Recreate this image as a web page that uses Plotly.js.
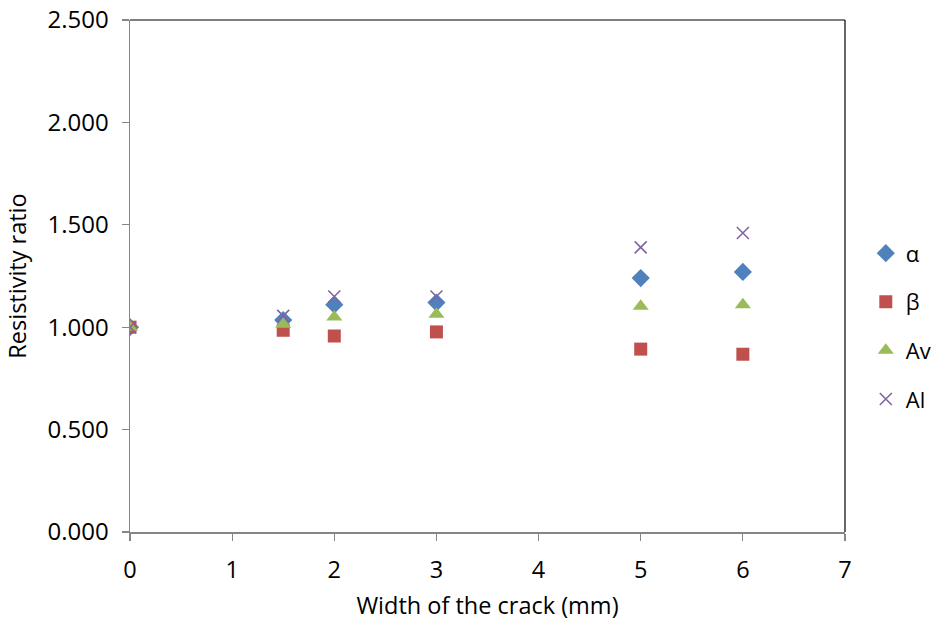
<!DOCTYPE html>
<html>
<head>
<meta charset="utf-8">
<script src="https://cdn.plot.ly/plotly-3.0.1.min.js"></script>
<style>html,body{margin:0;padding:0;background:#fff;}#chart{width:937px;height:624px;}</style>
</head>
<body>
<div id="chart"></div>
<script>
const crackWidth = [0, 1.5, 2, 3, 5, 6];
const alphaVals = [1.000, 1.035, 1.110, 1.120, 1.240, 1.270];
const betaVals  = [1.000, 0.985, 0.957, 0.977, 0.893, 0.868];
const avVals    = [1.000, 1.015, 1.050, 1.063, 1.102, 1.110];
const alVals    = [1.000, 1.055, 1.150, 1.150, 1.390, 1.460];
const seriesNames = ['α', 'β', 'Av', 'Al'];
const xTicks = [0, 1, 2, 3, 4, 5, 6, 7];
const yTicks = [0, 0.5, 1.0, 1.5, 2.0, 2.5];

const font = "'Open Sans', 'Liberation Sans', sans-serif";
const mk = (y, name, sym, color, size, group, extra) => ({
  x: crackWidth, y: y, name: name, type: 'scatter', mode: 'markers',
  legendgroup: group,
  marker: Object.assign({symbol: sym, color: color, size: size, line: {width: 0}}, extra || {})
});
const data = [
  mk(alphaVals, seriesNames[0], 'diamond', '#4F81BD', 14, 'a'),
  mk(betaVals, seriesNames[1], 'square', '#C0504D', 13, 'b'),
  mk(avVals, seriesNames[2], 'triangle-up', '#9BBB59', 14, 'c'),
  mk(alVals, seriesNames[3], 'x-thin', '#8064A2', 12, 'd', {line: {width: 1.6, color: '#8064A2'}})
];
const layout = {
  width: 937, height: 624,
  margin: {l: 130, r: 92, t: 20, b: 92},
  paper_bgcolor: '#fff', plot_bgcolor: '#fff',
  font: {family: font, size: 23, color: '#000'},
  showlegend: true,
  legend: {xref: 'container', yref: 'container', x: 0.924, xanchor: 'left', y: 0.477, yanchor: 'middle',
           tracegroupgap: 17, font: {size: 22}, itemwidth: 30, bgcolor: 'rgba(0,0,0,0)'},
  xaxis: {range: [0, 7], tickvals: xTicks, ticktext: xTicks.map(String),
          showgrid: false, zeroline: false, showline: true, linecolor: '#868686', linewidth: 1.5,
          ticks: 'outside', ticklen: 7, tickcolor: '#868686', tickwidth: 1.2,
          ticklabelstandoff: 9, tickfont: {size: 23.5},
          title: {text: 'Width of the crack (mm)', font: {size: 23.5}, standoff: 14}},
  yaxis: {range: [0, 2.5], tickvals: yTicks, ticktext: yTicks.map(v => v.toFixed(3)),
          showgrid: false, zeroline: false, showline: true, linecolor: '#868686', linewidth: 1.5,
          ticks: 'outside', ticklen: 7, tickcolor: '#868686', tickwidth: 1.2,
          ticklabelstandoff: 8, tickfont: {size: 24},
          title: {text: 'Resistivity ratio', font: {size: 23.5}, standoff: 14}},
  shapes: [
    {type: 'line', xref: 'paper', yref: 'paper', x0: 0, x1: 1, y0: 1, y1: 1, line: {color: '#000', width: 1.2}},
    {type: 'line', xref: 'paper', yref: 'paper', x0: 1, x1: 1, y0: 0, y1: 1, line: {color: '#000', width: 1.2}}
  ]
};
Plotly.newPlot('chart', data, layout, {displayModeBar: false, staticPlot: true});
</script>
</body>
</html>
